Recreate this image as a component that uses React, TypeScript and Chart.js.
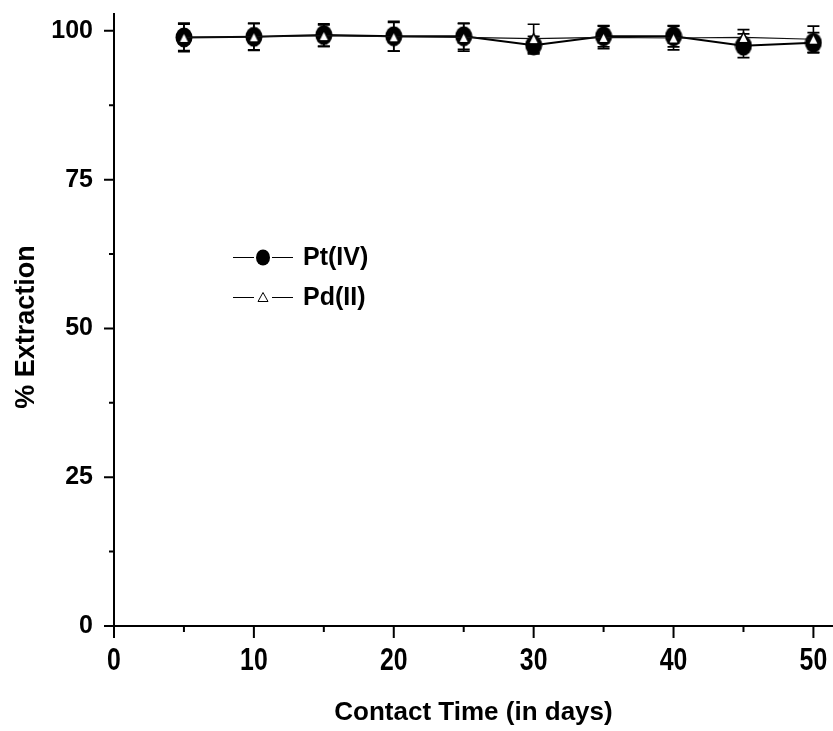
import React, { useEffect, useRef } from "react";
import { Chart, registerables } from "chart.js";

Chart.register(...registerables);

// ---- Data ----
const days = [5, 10, 15, 20, 25, 30, 35, 40, 45, 50];
const ptValues = [98.9, 99.0, 99.3, 99.1, 99.1, 97.6, 99.1, 99.1, 97.5, 98.0];
const ptErrors = [2.2, 2.3, 1.9, 2.5, 2.2, 1.5, 1.8, 1.8, 2.0, 1.7];
const pdValues = [98.9, 99.0, 99.2, 99.0, 98.9, 98.7, 98.9, 98.8, 98.9, 98.6];
const pdErrors = [2.4, 2.2, 1.8, 2.4, 2.3, 2.4, 1.9, 2.0, 1.3, 2.2];
const xTickLabels = [0, 10, 20, 30, 40, 50];
const xMinorTicks = [5, 15, 25, 35, 45];
const yTickLabels = [0, 25, 50, 75, 100];
const yMinorTicks = [12.5, 37.5, 62.5, 87.5];
const seriesNames = ["Pt(IV)", "Pd(II)"];
const xTitle = "Contact Time (in days)";
const yTitle = "% Extraction";

const FONT = '"Liberation Sans", Arial, Helvetica, sans-serif';

function makeEllipse(w: number, h: number): HTMLCanvasElement {
  const c = document.createElement("canvas");
  c.width = w;
  c.height = h;
  const ctx = c.getContext("2d")!;
  ctx.fillStyle = "#000";
  ctx.beginPath();
  ctx.ellipse(w / 2, h / 2, w / 2 - 0.5, h / 2 - 0.5, 0, 0, Math.PI * 2);
  ctx.fill();
  return c;
}

function makeTriangle(w: number, h: number, lw: number): HTMLCanvasElement {
  const c = document.createElement("canvas");
  c.width = w;
  c.height = h;
  const ctx = c.getContext("2d")!;
  ctx.fillStyle = "#fff";
  ctx.strokeStyle = "#000";
  ctx.lineWidth = lw;
  ctx.lineJoin = "miter";
  ctx.beginPath();
  ctx.moveTo(w / 2, lw);
  ctx.lineTo(w - lw, h - lw);
  ctx.lineTo(lw, h - lw);
  ctx.closePath();
  ctx.fill();
  ctx.stroke();
  return c;
}

const customPlugin = {
  id: "customDecor",
  beforeDatasetsDraw(chart: any) {
    const ctx = chart.ctx;
    const xs = chart.scales.x;
    const ys = chart.scales.y;
    const series = [
      { v: ptValues, e: ptErrors },
      { v: pdValues, e: pdErrors },
    ];
    ctx.save();
    ctx.strokeStyle = "#000";
    ctx.lineWidth = 1.6;
    series.forEach((s) => {
      days.forEach((d, i) => {
        const x = xs.getPixelForValue(d);
        const yt = ys.getPixelForValue(s.v[i] + s.e[i]);
        const yb = ys.getPixelForValue(s.v[i] - s.e[i]);
        ctx.beginPath();
        ctx.moveTo(x, yt);
        ctx.lineTo(x, yb);
        ctx.moveTo(x - 6, yt);
        ctx.lineTo(x + 6, yt);
        ctx.moveTo(x - 6, yb);
        ctx.lineTo(x + 6, yb);
        ctx.stroke();
      });
    });
    ctx.restore();
  },
  afterDraw(chart: any) {
    const ctx = chart.ctx;
    const xs = chart.scales.x;
    const ys = chart.scales.y;
    const area = chart.chartArea;
    ctx.save();
    ctx.strokeStyle = "#000";
    ctx.lineWidth = 2;
    // axes
    ctx.beginPath();
    ctx.moveTo(area.left, area.top);
    ctx.lineTo(area.left, area.bottom);
    ctx.moveTo(area.left, area.bottom);
    ctx.lineTo(area.right, area.bottom);
    ctx.stroke();
    // y ticks
    ctx.beginPath();
    yTickLabels.forEach((v) => {
      const y = ys.getPixelForValue(v);
      ctx.moveTo(area.left - 10, y);
      ctx.lineTo(area.left, y);
    });
    yMinorTicks.forEach((v) => {
      const y = ys.getPixelForValue(v);
      ctx.moveTo(area.left - 5, y);
      ctx.lineTo(area.left, y);
    });
    // x ticks
    xTickLabels.forEach((v) => {
      const x = xs.getPixelForValue(v);
      ctx.moveTo(x, area.bottom);
      ctx.lineTo(x, area.bottom + 12);
    });
    xMinorTicks.forEach((v) => {
      const x = xs.getPixelForValue(v);
      ctx.moveTo(x, area.bottom);
      ctx.lineTo(x, area.bottom + 6);
    });
    ctx.stroke();

    // x tick labels (condensed bold)
    ctx.fillStyle = "#000";
    ctx.font = `bold 31px ${FONT}`;
    ctx.textAlign = "center";
    ctx.textBaseline = "alphabetic";
    xTickLabels.forEach((v) => {
      const x = xs.getPixelForValue(v);
      ctx.save();
      ctx.translate(x, area.bottom + 44);
      ctx.scale(0.8, 1);
      ctx.fillText(String(v), 0, 0);
      ctx.restore();
    });

    // y axis title
    ctx.save();
    ctx.translate(27, 327);
    ctx.rotate(-Math.PI / 2);
    ctx.font = `bold 27px ${FONT}`;
    ctx.textAlign = "center";
    ctx.textBaseline = "middle";
    ctx.fillText(yTitle, 0, 0);
    ctx.restore();

    // legend
    const legendRows = [
      { y: 257.5, kind: "circle", lw: 1.2 },
      { y: 297.5, kind: "triangle", lw: 1 },
    ];
    legendRows.forEach((row, i) => {
      ctx.strokeStyle = "#000";
      ctx.lineWidth = row.lw;
      ctx.beginPath();
      ctx.moveTo(233, row.y);
      ctx.lineTo(254, row.y);
      ctx.moveTo(272, row.y);
      ctx.lineTo(293, row.y);
      ctx.stroke();
      if (row.kind === "circle") {
        ctx.fillStyle = "#000";
        ctx.beginPath();
        ctx.ellipse(263, row.y, 7, 8, 0, 0, Math.PI * 2);
        ctx.fill();
      } else {
        ctx.fillStyle = "#fff";
        ctx.lineWidth = 1;
        ctx.beginPath();
        ctx.moveTo(263, row.y - 5);
        ctx.lineTo(268, row.y + 4);
        ctx.lineTo(258, row.y + 4);
        ctx.closePath();
        ctx.fill();
        ctx.stroke();
      }
      ctx.fillStyle = "#000";
      ctx.font = `bold 25px ${FONT}`;
      ctx.textAlign = "left";
      ctx.textBaseline = "middle";
      ctx.fillText(seriesNames[i], 303, row.y + 1);
    });
    ctx.restore();
  },
};

function zeroPad(s: any) {
  s.paddingTop = 0;
  s.paddingBottom = 0;
  s.paddingLeft = 0;
  s.paddingRight = 0;
}

export default function App() {
  const ref = useRef<HTMLCanvasElement | null>(null);
  useEffect(() => {
    document.body.style.margin = "0";
    if (!ref.current) return;
    const circleImg = makeEllipse(18, 21);
    const triImg = makeTriangle(13, 13, 1.4);
    const chart = new Chart(ref.current, {
      type: "line",
      data: {
        datasets: [
          {
            label: seriesNames[0],
            data: days.map((d, i) => ({ x: d, y: ptValues[i] })),
            borderColor: "#000",
            borderWidth: 2,
            pointStyle: circleImg as any,
            pointRadius: 9,
            tension: 0,
            order: 1,
          },
          {
            label: seriesNames[1],
            data: days.map((d, i) => ({ x: d, y: pdValues[i] })),
            borderColor: "#111",
            borderWidth: 1.1,
            pointStyle: triImg as any,
            pointRadius: 7,
            tension: 0,
            order: 0,
          },
        ],
      },
      options: {
        responsive: false,
        animation: false,
        events: [],
        layout: { autoPadding: false, padding: { top: 13, left: 0, right: 0, bottom: 0 } },
        plugins: {
          legend: { display: false },
          tooltip: { enabled: false },
        },
        scales: {
          x: {
            type: "linear",
            min: 0,
            max: 51.4,
            grid: { display: false, drawTicks: false },
            border: { display: false },
            ticks: { display: false },
            afterFit: (s: any) => {
              s.height = 105;
              zeroPad(s);
            },
            title: {
              display: true,
              text: xTitle,
              color: "#000",
              font: { family: FONT, size: 26, weight: "bold" },
              padding: { top: 0, bottom: 3 },
            },
          },
          y: {
            type: "linear",
            min: 0,
            max: 103,
            grid: { display: false, drawTicks: false },
            border: { display: false },
            afterBuildTicks: (s: any) => {
              s.ticks = yTickLabels.map((v) => ({ value: v }));
            },
            ticks: {
              color: "#000",
              padding: 21,
              font: { family: FONT, size: 25, weight: "bold" },
              callback: (v: any) => String(v),
            },
            afterFit: (s: any) => {
              s.width = 114;
              zeroPad(s);
            },
            title: { display: false },
          },
        },
      },
      plugins: [customPlugin],
    });
    return () => chart.destroy();
  }, []);
  return (
    <div style={{ width: 833, height: 731, background: "#fff" }}>
      <canvas ref={ref} width={833} height={731} style={{ display: "block" }} />
    </div>
  );
}
